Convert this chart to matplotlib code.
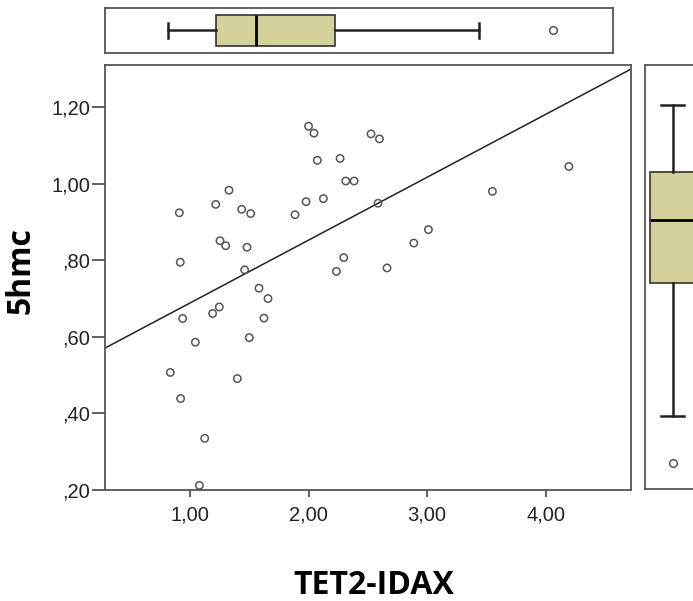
import numpy as np
import matplotlib
matplotlib.use('Agg')
import matplotlib.pyplot as plt

# TET2-IDAX vs 5hmc
tet2_idax = [2.00, 2.046, 2.527, 2.598, 2.074, 2.266, 2.314, 2.384, 1.329, 1.217,
             0.910, 1.436, 1.512, 1.886, 1.979, 2.125, 2.586, 1.253, 1.301, 1.481,
             0.918, 2.297, 2.235, 2.662, 1.461, 4.196, 3.551, 3.011, 2.888, 1.582,
             1.658, 0.938, 1.191, 1.247, 1.624, 1.500, 1.045, 0.834, 1.399, 0.921,
             1.124, 1.079]
hmc5 = [1.150, 1.132, 1.130, 1.117, 1.061, 1.066, 1.007, 1.007, 0.983, 0.946,
        0.924, 0.933, 0.922, 0.919, 0.953, 0.961, 0.949, 0.851, 0.838, 0.834,
        0.795, 0.807, 0.771, 0.780, 0.775, 1.045, 0.980, 0.880, 0.845, 0.727,
        0.700, 0.648, 0.661, 0.678, 0.649, 0.598, 0.586, 0.507, 0.491, 0.439,
        0.335, 0.212]
x_ticks = [1.0, 2.0, 3.0, 4.0]
y_ticks = [0.2, 0.4, 0.6, 0.8, 1.0, 1.2]

x = np.array(tet2_idax)
y = np.array(hmc5)
xlim = (0.283, 4.72)
ylim = (0.20, 1.31)

def fmt(v):
    s = f"{v:.2f}".replace('.', ',')
    return s[1:] if s.startswith('0') else s

W, H = 693, 601
fig = plt.figure(figsize=(W / 100, H / 100), dpi=100)
edge = '#555555'
box_fill = '#d4d19b'

def px_axes(x0, y0, x1, y1):
    return fig.add_axes([x0 / W, 1 - y1 / H, (x1 - x0) / W, (y1 - y0) / H])

# main scatter
ax = px_axes(105, 65, 631, 490)
ax.scatter(x, y, s=28, facecolors='none', edgecolors='#555555', linewidths=1.1, zorder=3)
slope, icpt = np.polyfit(x, y, 1)
xx = np.array(xlim)
ax.plot(xx, icpt + slope * xx, color='#222222', lw=1.1)
ax.set_xlim(xlim)
ax.set_ylim(ylim)
ax.set_xticks(x_ticks)
ax.set_xticklabels([fmt(v) for v in x_ticks])
ax.set_yticks(y_ticks)
ax.set_yticklabels([fmt(v) for v in y_ticks])
ax.tick_params(axis='x', length=5, width=1.2, color='#444444', pad=6)
ax.tick_params(axis='y', length=9.5, width=1.2, color='#444444', pad=1)
for lab in ax.get_xticklabels() + ax.get_yticklabels():
    lab.set_fontfamily('Liberation Sans')
    lab.set_fontsize(14.5)
    lab.set_color('#222222')
for sp in ax.spines.values():
    sp.set_color(edge)
    sp.set_linewidth(1.3)

bp_style = dict(patch_artist=True, widths=0.83,
                boxprops=dict(facecolor=box_fill, edgecolor='#333333', linewidth=1.2),
                medianprops=dict(color='black', linewidth=2),
                whiskerprops=dict(color='#222222', linewidth=1.8),
                capprops=dict(color='#222222', linewidth=1.8),
                flierprops=dict(marker='o', markersize=5.5, markerfacecolor='none',
                                markeredgecolor='#555555', markeredgewidth=1.1))

# top box plot
axt = px_axes(105, 8, 613, 52.7)
axt.boxplot(x, vert=False, positions=[0], **bp_style)
axt.set_xlim(xlim)
axt.set_ylim(-0.6, 0.6)
axt.set_xticks([])
axt.set_yticks([])
for sp in axt.spines.values():
    sp.set_color(edge)
    sp.set_linewidth(1.3)

# right box plot
axr = px_axes(645, 65, 700.5, 489.3)
bp_r = dict(bp_style)
bp_r['widths'] = 0.82
axr.boxplot(y, vert=True, positions=[0], **bp_r)
axr.set_xlim(-0.5, 0.5)
axr.set_ylim(0.144, 1.255)
axr.set_xticks([])
axr.set_yticks([])
for sp in axr.spines.values():
    sp.set_color(edge)
    sp.set_linewidth(1.3)

fig.text(374 / W, 1 - 586 / H, 'TET2-IDAX', ha='center', va='center',
         fontsize=23, fontweight='bold', family='Open Sans')
fig.text(21 / W, 1 - 271 / H, '5hmc', ha='center', va='center', rotation=90,
         fontsize=23, fontweight='bold', family='Open Sans')

fig.savefig('out.png', dpi=100)
